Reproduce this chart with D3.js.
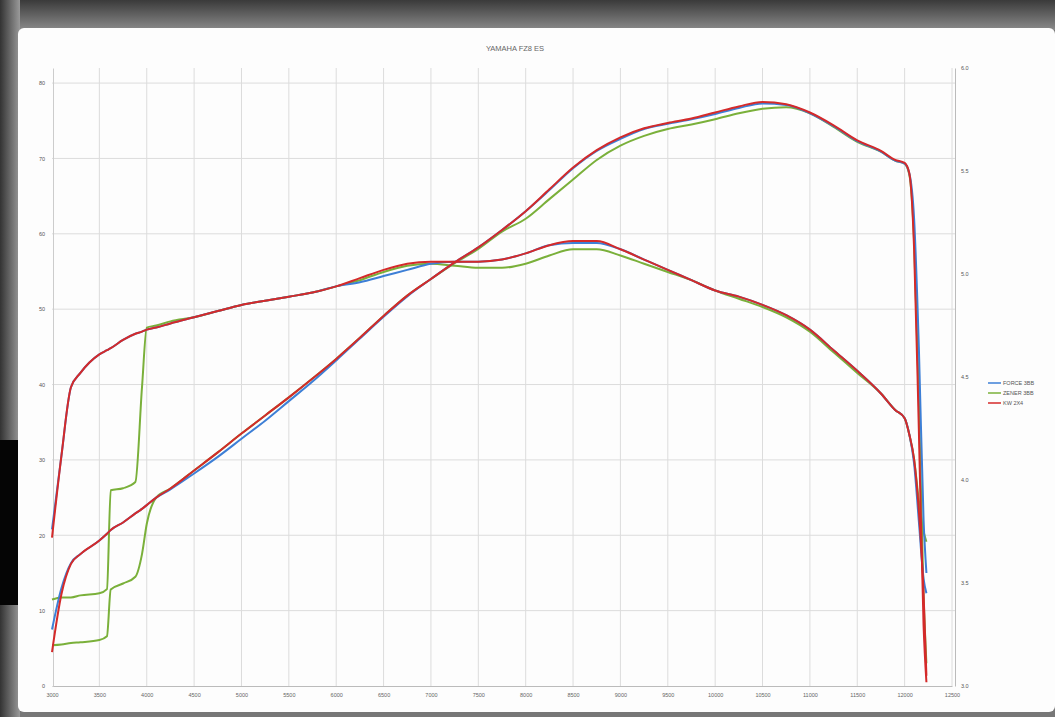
<!DOCTYPE html>
<html><head><meta charset="utf-8">
<script src="https://cdn.jsdelivr.net/npm/d3@7/dist/d3.min.js"></script>
<style>
html,body{margin:0;padding:0;background:#fff;overflow:hidden}
svg{display:block}
text{font-family:"Liberation Sans",Arial,sans-serif}
</style></head>
<body>
<svg id="c" width="1055" height="717"></svg>
<script>
const title = "YAMAHA FZ8 ES";
const seriesNames = ["FORCE 3BB", "ZENER 3BB", "KW 2X4"];
const seriesColors = ["#3d7fd6", "#7ab03a", "#d42a2a"];
const rpmTicks = d3.range(3000, 12501, 500);
const powerTicks = [0,10,20,30,40,50,60,70,80];
const torqueTicks = [3,3.5,4,4.5,5,5.5,6];

const rpm = [3000,3100,3200,3300,3500,3580,3620,3750,3880,3950,4000,4100,4250,4500,4750,5000,5250,5500,5750,6000,
 6250,6500,6750,7000,7250,7500,7750,8000,8250,8500,8750,9000,9250,9500,9750,10000,10250,10500,10750,11000,
 11250,11500,11750,11900,12000,12050,12100,12150,12200,12230];

// torque (right axis)
const torqueForce = [3.76,4.12,4.45,4.52,4.61,4.63,4.64,4.68,4.71,4.72,4.73,4.74,4.76,4.79,4.82,4.85,4.87,4.89,4.91,4.94,
 4.96,4.99,5.02,5.05,5.06,5.06,5.07,5.10,5.14,5.15,5.15,5.12,5.07,5.02,4.97,4.92,4.89,4.85,4.80,4.73,
 4.63,4.53,4.42,4.34,4.30,4.22,4.08,3.80,3.52,3.45];
const torqueZener = [3.42,3.43,3.43,3.44,3.45,3.47,3.95,3.96,3.99,4.45,4.74,4.75,4.77,4.79,4.82,4.85,4.87,4.89,4.91,4.94,
 4.97,5.01,5.04,5.05,5.04,5.03,5.03,5.05,5.09,5.12,5.12,5.09,5.05,5.01,4.97,4.92,4.88,4.84,4.79,4.72,
 4.62,4.52,4.42,4.34,4.30,4.22,4.10,3.90,3.75,3.70];
const torqueKW = [3.72,4.12,4.45,4.52,4.61,4.63,4.64,4.68,4.71,4.72,4.73,4.74,4.76,4.79,4.82,4.85,4.87,4.89,4.91,4.94,
 4.98,5.02,5.05,5.06,5.06,5.06,5.07,5.10,5.14,5.16,5.16,5.12,5.07,5.02,4.97,4.92,4.89,4.85,4.80,4.73,
 4.63,4.53,4.42,4.34,4.30,4.22,4.10,3.85,3.45,3.05];

// power (left axis)
const powerForce = [7.5,13.0,16.3,17.5,19.3,20.2,20.7,21.7,22.9,23.5,24.0,25.0,26.1,28.2,30.4,32.8,35.2,37.8,40.4,43.2,
 46.1,49.0,51.7,54.0,56.2,58.2,60.5,63.0,65.8,68.7,71.0,72.6,73.9,74.6,75.2,75.9,76.7,77.3,77.1,76.0,
 74.3,72.3,70.9,69.7,69.3,68.0,62.0,45.0,22.0,15.0];
const powerZener = [5.4,5.5,5.7,5.8,6.1,6.6,12.8,13.6,14.5,17.5,21.5,25.0,26.2,28.6,31.0,33.5,35.9,38.3,40.8,43.4,
 46.2,49.1,51.8,54.0,56.1,58.0,60.3,62.0,64.6,67.2,69.8,71.7,73.0,73.9,74.5,75.2,76.0,76.6,76.8,76.0,
 74.2,72.2,70.9,69.7,69.3,67.8,59.0,38.0,12.0,3.0];
const powerKW = [4.5,12.2,16.2,17.5,19.3,20.2,20.7,21.7,22.9,23.5,24.0,25.0,26.2,28.6,31.0,33.5,35.9,38.3,40.8,43.4,
 46.2,49.1,51.8,54.0,56.2,58.2,60.5,63.0,65.9,68.8,71.1,72.8,74.0,74.7,75.3,76.1,76.9,77.5,77.2,76.1,
 74.4,72.4,71.0,69.8,69.4,68.0,58.0,34.0,8.0,0.5];

const powerSeries = [powerForce, powerZener, powerKW];
const torqueSeries = [torqueForce, torqueZener, torqueKW];

const svg = d3.select("#c");

// photographed-screen frame
const defs = svg.append("defs");
const gTop = defs.append("linearGradient").attr("id","gt").attr("x1",0).attr("y1",0).attr("x2",0).attr("y2",1);
gTop.append("stop").attr("offset","0%").attr("stop-color","#3a3a3a");
gTop.append("stop").attr("offset","100%").attr("stop-color","#8a8a8a");
const gLeft = defs.append("linearGradient").attr("id","gl").attr("x1",0).attr("y1",0).attr("x2",1).attr("y2",0);
gLeft.append("stop").attr("offset","0%").attr("stop-color","#333");
gLeft.append("stop").attr("offset","100%").attr("stop-color","#9a9a9a");
svg.append("rect").attr("x",0).attr("y",0).attr("width",1055).attr("height",717).attr("fill","#777");
svg.append("rect").attr("x",0).attr("y",0).attr("width",1055).attr("height",30).attr("fill","url(#gt)");
svg.append("rect").attr("x",0).attr("y",0).attr("width",20).attr("height",717).attr("fill","url(#gl)");
svg.append("rect").attr("x",0).attr("y",440).attr("width",18).attr("height",165).attr("fill","#050505");
svg.append("rect").attr("x",18).attr("y",28).attr("width",1037).attr("height",684).attr("rx",6).attr("fill","#fdfdfd");

const x = d3.scaleLinear().domain([3000,12500]).range([52,952]);
const yP = d3.scaleLinear().domain([0,82]).range([686,68]);
const yT = d3.scaleLinear().domain([3,6]).range([686,68]);

// gridlines
const grid = svg.append("g");
grid.selectAll("line.v").data(rpmTicks.slice(1)).join("line")
  .attr("x1",d=>x(d)).attr("x2",d=>x(d)).attr("y1",68).attr("y2",686)
  .attr("stroke","#dcdcdc").attr("stroke-width",1);
grid.selectAll("line.h").data(powerTicks.slice(1)).join("line")
  .attr("x1",52).attr("x2",955).attr("y1",d=>yP(d)).attr("y2",d=>yP(d))
  .attr("stroke","#dcdcdc").attr("stroke-width",1);

// axes
const axX = d3.axisBottom(x).tickValues(rpmTicks).tickSize(0).tickPadding(7).tickFormat(d3.format("d"));
const gx = svg.append("g").attr("transform","translate(0,686)").call(axX);
gx.select(".domain").attr("stroke","#bbb");
gx.selectAll("text").attr("font-size",5.5).attr("fill","#666");

const axL = d3.axisLeft(yP).tickValues(powerTicks).tickSize(0).tickPadding(8);
const gl = svg.append("g").attr("transform","translate(53,0)").call(axL);
gl.select(".domain").attr("stroke","#ccc");
gl.selectAll("text").attr("font-size",5.5).attr("fill","#555");

const axR = d3.axisRight(yT).tickValues(torqueTicks).tickSize(0).tickPadding(6);
const gr = svg.append("g").attr("transform","translate(955,0)").call(axR);
gr.select(".domain").attr("stroke","#bbb");
gr.selectAll("text").attr("font-size",5.5).attr("fill","#555");

// lines
const lineP = d3.line().x((d,i)=>x(rpm[i])).y(d=>yP(d)).curve(d3.curveMonotoneX);
const lineT = d3.line().x((d,i)=>x(rpm[i])).y(d=>yT(d)).curve(d3.curveMonotoneX);
const order = [1,0,2];
order.forEach(k=>{
  svg.append("path").attr("d",lineT(torqueSeries[k])).attr("fill","none")
    .attr("stroke",seriesColors[k]).attr("stroke-width",2).attr("stroke-linejoin","round");
  svg.append("path").attr("d",lineP(powerSeries[k])).attr("fill","none")
    .attr("stroke",seriesColors[k]).attr("stroke-width",2).attr("stroke-linejoin","round");
});

// title
svg.append("text").attr("x",515).attr("y",51).attr("text-anchor","middle")
  .attr("font-size",7.5).attr("fill","#666").text(title);

// legend
const lg = svg.append("g").attr("transform","translate(988,383)");
seriesNames.forEach((n,i)=>{
  lg.append("line").attr("x1",0).attr("x2",13).attr("y1",i*10).attr("y2",i*10)
    .attr("stroke",seriesColors[i]).attr("stroke-width",1.5);
  lg.append("text").attr("x",15).attr("y",i*10+2).attr("font-size",5.5).attr("fill","#555").text(n);
});
</script>
</body></html>
